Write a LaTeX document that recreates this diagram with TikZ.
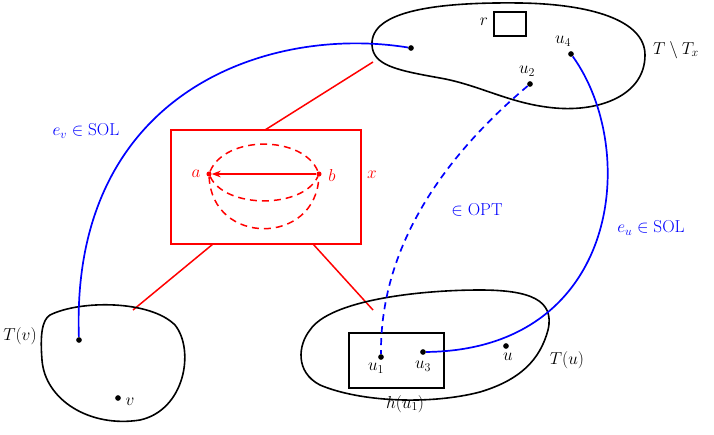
\documentclass[tikz,border=0pt]{standalone}
\usetikzlibrary{arrows.meta}
\begin{document}
\begin{tikzpicture}[x=1pt,y=-1pt,
 blob/.style={line width=1.6pt},
 redl/.style={red,line width=1.5pt},
 bluel/.style={blue,line width=1.7pt},
 dsh/.style={dash pattern=on 7pt off 5pt},
 dot/.style={circle,fill,inner sep=2pt},
 lbl/.style={font=\fontsize{18}{21}\selectfont}]
\useasboundingbox (0,0) rectangle (714,434);
% top blob
\draw[blob] (372,45) .. controls (370,10) and (440,2) .. (520,3)
 .. controls (590,4) and (645,20) .. (645,55)
 .. controls (645,95) and (600,112) .. (555,108)
 .. controls (510,104) and (480,85) .. (440,78)
 .. controls (395,70) and (373,65) .. (372,45) -- cycle;
\draw[blob] (494,12) rectangle (526,36);
\node[lbl] (r) at (484,22) {$r$};
\node[lbl] (ttx) at (676,50) {$T\setminus T_x$};
\node[dot] (p) at (411,48) {};
\node[dot] (u4) at (571,54) {};
\node[lbl] at (563,41) {$u_4$};
\node[dot] (u2) at (530,84) {};
\node[lbl] at (527,71) {$u_2$};
% red box
\node[draw=red,line width=1.5pt,minimum width=190pt,minimum height=114pt] (X) at (266,187) {};
\node[red,lbl] (x) at (372,175) {$x$};
\node[red,circle,fill,inner sep=1.8pt] (b) at (319,174) {};
\node[red,circle,fill,inner sep=1.8pt] (a) at (209,174) {};
\node[red,lbl] at (332,175) {$b$};
\node[red,lbl] at (196,174) {$a$};
\draw[redl,-{Stealth[length=9pt]}] (b) -- (a);
\draw[redl,dsh] (a) .. controls (225,135) and (303,135) .. (b);
\draw[redl,dsh] (a) .. controls (225,209) and (303,209) .. (b);
\draw[redl,dsh] (a) .. controls (212,246) and (316,246) .. (b);
% red links
\coordinate (t1) at (373,62);
\coordinate (l1) at (133,310);
\coordinate (r1) at (373,310);
\draw[redl] (265,130) -- (t1);
\draw[redl] (213,244) -- (l1);
\draw[redl] (313,244) -- (r1);
% bottom-left blob
\draw[blob] (50,315) .. controls (80,300) and (150,300) .. (175,325)
 .. controls (195,350) and (185,410) .. (140,420)
 .. controls (90,428) and (45,400) .. (42,360)
 .. controls (40,335) and (42,320) .. (50,315) -- cycle;
\node[lbl] (Tv) at (20,336) {$T(v)$};
\node[dot] (pv) at (79,340) {};
\node[dot] (v) at (118,398) {};
\node[lbl] at (130,402) {$v$};
% bottom-right blob
\draw[blob] (310,330) .. controls (330,300) and (420,290) .. (480,290)
 .. controls (530,290) and (555,300) .. (548,330)
 .. controls (540,360) and (520,380) .. (480,392)
 .. controls (430,405) and (360,402) .. (320,385)
 .. controls (295,372) and (298,345) .. (310,330) -- cycle;
\draw[blob] (349,333) rectangle (444,388);
\node[dot] (u1) at (381,357) {};
\node[lbl] at (376,368) {$u_1$};
\node[dot] (u3) at (423,352) {};
\node[lbl] at (423,366) {$u_3$};
\node[dot] (u) at (506,346) {};
\node[lbl] at (508,357) {$u$};
\node[lbl] (Tu) at (567,360) {$T(u)$};
\node[lbl] (hu) at (405,404) {$h(u_1)$};
% blue
\draw[bluel] (p) .. controls (270,25) and (70,90) .. (pv);
\node[blue,lbl] at (86,131) {$e_v\in\mathrm{SOL}$};
\draw[bluel] (u4) .. controls (640,150) and (620,350) .. (u3);
\node[blue,lbl] at (651,228) {$e_u\in\mathrm{SOL}$};
\draw[bluel,dsh] (u2) .. controls (440,160) and (380,250) .. (u1);
\node[blue,lbl] at (477,210) {$\in\mathrm{OPT}$};
\end{tikzpicture}
\end{document}
